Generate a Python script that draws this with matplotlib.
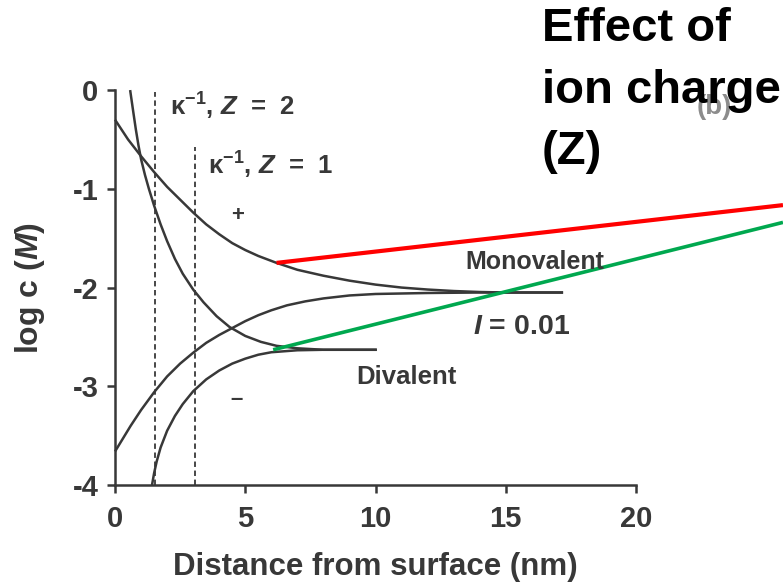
import matplotlib
matplotlib.use("Agg")
import matplotlib.pyplot as plt

# Ion concentration profiles near a charged surface, I = 0.01
mono_pos_x = [0.0, 0.5, 1.0, 1.5, 2.0, 2.5, 3.0, 3.5, 4.0, 4.5, 5.0, 5.5, 6.2, 7.0, 8.0,
              9.0, 10.0, 11.0, 12.0, 13.0, 14.0, 15.0, 17.2]
mono_pos_y = [-0.30, -0.50, -0.67, -0.83, -0.98, -1.11, -1.24, -1.36, -1.46, -1.55, -1.62,
              -1.68, -1.75, -1.82, -1.88, -1.93, -1.97, -2.00, -2.02, -2.035, -2.045, -2.05, -2.05]

mono_neg_x = [0.0, 0.3, 0.6, 1.0, 1.5, 2.0, 2.5, 3.0, 3.5, 4.0, 4.5, 5.0, 5.5, 6.0, 6.6,
              7.3, 8.0, 9.0, 10.0, 12.0, 14.0, 17.2]
mono_neg_y = [-3.66, -3.53, -3.40, -3.24, -3.06, -2.90, -2.77, -2.66, -2.56, -2.48, -2.41,
              -2.34, -2.28, -2.23, -2.18, -2.14, -2.11, -2.08, -2.065, -2.055, -2.05, -2.05]

di_pos_x = [0.58, 0.7, 0.8, 0.9, 1.0, 1.15, 1.3, 1.5, 1.75, 2.0, 2.3, 2.6, 3.0, 3.4, 3.9,
            4.4, 5.0, 5.6, 6.2, 7.0, 8.0, 10.05]
di_pos_y = [0.0, -0.22, -0.40, -0.56, -0.70, -0.86, -1.00, -1.17, -1.36, -1.53, -1.71, -1.86,
            -2.02, -2.15, -2.29, -2.40, -2.49, -2.55, -2.59, -2.615, -2.63, -2.63]

di_neg_x = [1.42, 1.5, 1.6, 1.75, 2.0, 2.3, 2.6, 3.0, 3.5, 4.0, 4.5, 5.0, 5.5, 6.0, 7.0, 8.0, 10.05]
di_neg_y = [-4.0, -3.88, -3.76, -3.62, -3.45, -3.30, -3.18, -3.05, -2.93, -2.84, -2.77, -2.72,
            -2.68, -2.655, -2.635, -2.63, -2.63]

# Debye lengths (x position, top of the dashed marker)
debye_x = [1.54, 3.07]
debye_top = [-0.02, -0.58]
debye_labels = ["κ$^{-1}$, $Z$  =  2", "κ$^{-1}$, $Z$  =  1"]

# pointer lines (start on a curve, end off to the right)
red_x = [6.2, 25.64]
red_y = [-1.75, -1.165]
green_x = [6.07, 25.64]
green_y = [-2.63, -1.34]

ink = "#383838"
plt.rcParams["font.family"] = ["Liberation Sans", "DejaVu Sans"]
plt.rcParams["font.weight"] = "bold"
plt.rcParams["axes.unicode_minus"] = False
plt.rcParams["mathtext.fontset"] = "custom"
plt.rcParams["mathtext.rm"] = "Liberation Sans:bold"
plt.rcParams["mathtext.bf"] = "Liberation Sans:bold"
plt.rcParams["mathtext.it"] = "Liberation Sans:italic:bold"

fig = plt.figure(figsize=(7.83, 5.83), dpi=100)
ax = fig.add_axes([0.1469, 0.168, 0.6654, 0.6775])

for xs, ys in [(mono_pos_x, mono_pos_y), (mono_neg_x, mono_neg_y),
               (di_pos_x, di_pos_y), (di_neg_x, di_neg_y)]:
    ax.plot(xs, ys, color=ink, lw=1.8, clip_on=False, solid_capstyle="butt",
            solid_joinstyle="round")

for x, top in zip(debye_x, debye_top):
    ax.plot([x, x], [-4, top], color=ink, lw=1.3, ls=(0, (3, 2)))

ax.text(2.11, -0.17, debye_labels[0], fontsize=18.5, color=ink, va="center")
ax.text(3.57, -0.76, debye_labels[1], fontsize=18.5, color=ink, va="center")
ax.text(4.72, -1.27, "+", fontsize=16, color=ink, ha="center", va="center")
ax.text(4.68, -3.13, "–", fontsize=16, color=ink, ha="center", va="center")
ax.text(16.1, -1.74, "Monovalent", fontsize=18, color=ink, ha="center", va="center")
ax.text(15.6, -2.40, "$I$ = 0.01", fontsize=20.5, color=ink, ha="center", va="center")
ax.text(11.2, -2.91, "Divalent", fontsize=18.5, color=ink, ha="center", va="center")

ax.plot(red_x, red_y, color="#ff0000", lw=3.0, clip_on=False, solid_capstyle="butt")
ax.plot(green_x, green_y, color="#00a84f", lw=2.6, clip_on=False, solid_capstyle="butt")

ax.set_xlim(0, 20)
ax.set_ylim(-4, 0)
ax.set_xticks([0, 5, 10, 15, 20])
ax.set_yticks([0, -1, -2, -3, -4])
ax.spines[["top", "right"]].set_visible(False)
for s in ["left", "bottom"]:
    ax.spines[s].set_color(ink)
    ax.spines[s].set_linewidth(1.8)
ax.tick_params(colors=ink, width=1.8, length=6, labelsize=21, pad=8)
ax.tick_params(axis="y", pad=6)
ax.set_xlabel("Distance from surface (nm)", fontsize=22.5, fontweight="bold", color=ink,
              labelpad=14)
ax.set_ylabel("log c ($M$)", fontsize=23, fontweight="bold", color=ink, labelpad=18)

# faint label bleeding through from the scanned page
fig.text(0.912, 0.816, "(b)", fontsize=20, color="#8c8c8c", ha="center", va="center",
         zorder=0)
fig.text(0.692, 0.988, "Effect of\nion charge\n(Z)", fontsize=34, color="black",
         fontfamily="Liberation Sans", fontweight="bold", va="top", ha="left",
         linespacing=1.52, zorder=5)

fig.savefig("out.png", dpi=100)
